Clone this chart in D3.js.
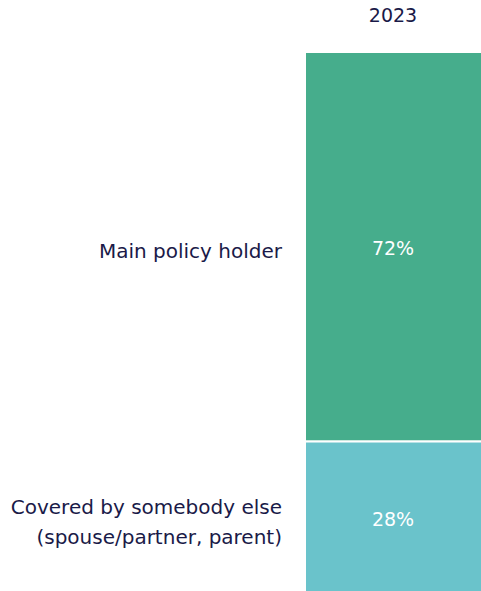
<!DOCTYPE html>
<html lang="en">
<head>
<meta charset="UTF-8" />
<title>Policy holder</title>
<style>
  body { margin: 0; background: #fff; }
  text { font-family: "DejaVu Sans", "Liberation Sans", Arial, sans-serif; }
</style>
</head>
<body>
<div id="chart"></div>
<script src="https://cdn.jsdelivr.net/npm/d3@7"></script>
<script>
// data
var years = ["2023"];
var categories = ["Main policy holder", "Covered by somebody else (spouse/partner, parent)"];
var labelLines = [["Main policy holder"], ["Covered by somebody else", "(spouse/partner, parent)"]];
var values = [72, 28];
var colors = ["#46ad8c", "#6ac3cb"];

var w = 481, h = 591;
var topY = 52, barLeft = 305;

var svg = d3.select("#chart").append("svg")
    .attr("width", w)
    .attr("height", h)
    .style("display", "block");

var xScale = d3.scaleBand().domain(years).range([barLeft, w + 2]).padding(0);
var yScale = d3.scaleLinear().domain([0, 100]).range([topY, h + 2]);

// stack the segments
var stacked = [];
var acc = 0;
values.forEach(function(v, i) {
  stacked.push({ cat: categories[i], lines: labelLines[i], v: v, y0: acc, y1: acc + v, color: colors[i] });
  acc += v;
});

svg.selectAll("rect.seg")
  .data(stacked)
  .enter()
  .append("rect")
    .attr("class", "seg")
    .attr("x", xScale("2023"))
    .attr("width", xScale.bandwidth())
    .attr("y", function(d) { return yScale(d.y0); })
    .attr("height", function(d) { return yScale(d.y1) - yScale(d.y0); })
    .attr("fill", function(d) { return d.color; })
    .attr("stroke", "#fff")
    .attr("stroke-width", 2);

// value labels
svg.selectAll("text.val")
  .data(stacked)
  .enter()
  .append("text")
    .attr("class", "val")
    .attr("x", barLeft + (w - barLeft) / 2)
    .attr("y", function(d) { return (yScale(d.y0) + yScale(d.y1)) / 2 + 3; })
    .attr("text-anchor", "middle")
    .attr("dominant-baseline", "middle")
    .attr("fill", "#fff")
    .style("font-size", "19px")
    .text(function(d) { return d.v + "%"; });

// category labels
var cats = svg.selectAll("text.cat")
  .data(stacked)
  .enter()
  .append("text")
    .attr("class", "cat")
    .attr("text-anchor", "end")
    .attr("fill", "#1a1a48")
    .style("font-size", "20px")
    .attr("transform", function(d) {
      var mid = (yScale(d.y0) + yScale(d.y1)) / 2 + 6;
      return "translate(282," + mid + ")";
    });

cats.selectAll("tspan")
  .data(function(d) {
    return d.lines.map(function(l, i) { return { t: l, i: i, n: d.lines.length }; });
  })
  .enter()
  .append("tspan")
    .attr("x", 0)
    .attr("y", function(d) { return (d.i - (d.n - 1) / 2) * 30; })
    .attr("dominant-baseline", "middle")
    .text(function(d) { return d.t; });

// year header
svg.append("text")
  .attr("x", barLeft + (w - barLeft) / 2)
  .attr("y", 16)
  .attr("text-anchor", "middle")
  .attr("dominant-baseline", "middle")
  .attr("fill", "#1a1a48")
  .style("font-size", "19px")
  .text(years[0]);
</script>
</body>
</html>
